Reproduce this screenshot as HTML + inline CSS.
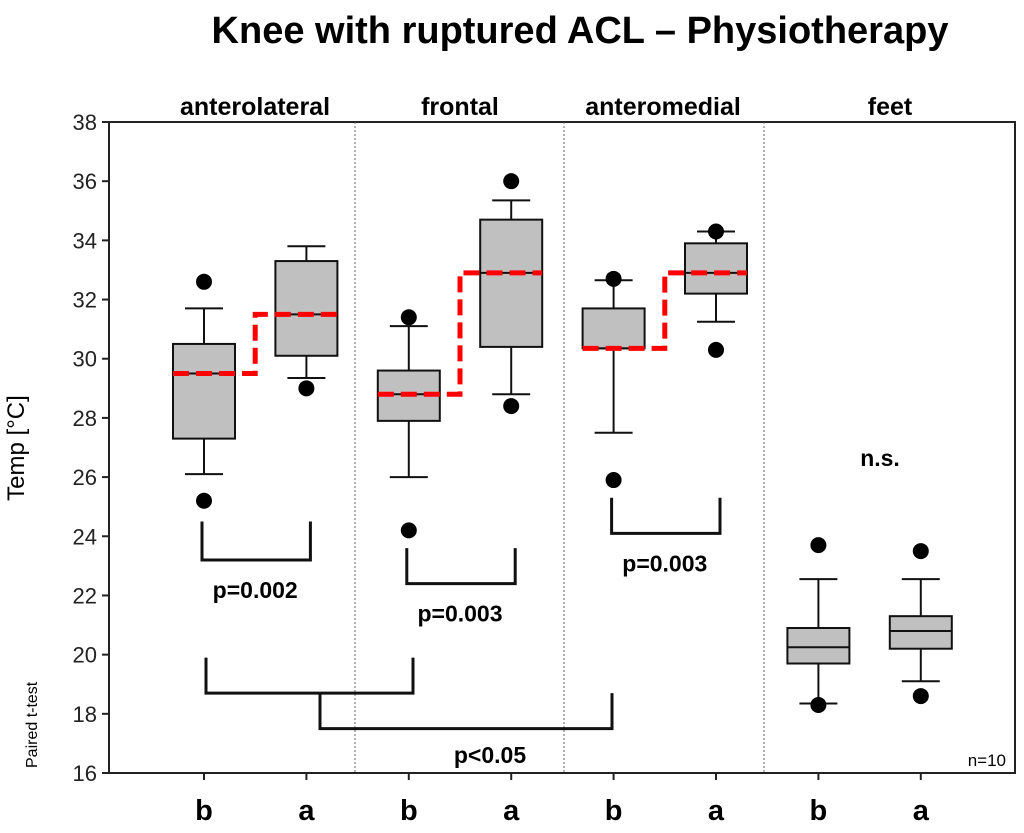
<!DOCTYPE html>
<html><head><meta charset="utf-8"><style>
body{margin:0;background:#fff}
svg text{font-family:"Liberation Sans",Arial,sans-serif}
</style></head><body>
<svg id="c" width="1024" height="828">
<text x="580" y="43" text-anchor="middle" font-size="38" font-weight="bold">Knee with ruptured ACL – Physiotherapy</text>
<text transform="translate(24,448) rotate(-90)" text-anchor="middle" font-size="24">Temp [°C]</text>
<g id="g"></g>
</svg>
<script>
const regions=["anterolateral","frontal","anteromedial","feet"];
const xLabels=["b","a","b","a","b","a","b","a"];
const whiskLo=[26.1,29.35,26.0,28.8,27.5,31.25,18.35,19.1];
const q1=[27.3,30.1,27.9,30.4,30.35,32.2,19.7,20.2];
const median=[29.5,31.5,28.8,32.9,30.35,32.9,20.25,20.8];
const q3=[30.5,33.3,29.6,34.7,31.7,33.9,20.9,21.3];
const whiskHi=[31.7,33.8,31.1,35.35,32.65,34.3,22.55,22.55];
const outHi=[32.6,null,31.4,36.0,32.7,34.3,23.7,23.5];
const outLo=[25.2,29.0,24.2,28.4,25.9,30.3,18.3,18.6];
const yTicks=[16,18,20,22,24,26,28,30,32,34,36,38];
const pairBrackets=[[0,1,24.5,23.2,"p=0.002"],[2,3,23.6,22.4,"p=0.003"],[4,5,25.3,24.1,"p=0.003"]];
const L=109,R=1015,T=122,B=773;
const y=v=>B-(v-16)/22*(B-T);
const x=i=>204+i*102.4;
const NS="http://www.w3.org/2000/svg",g=document.getElementById('g');
function mk(t,a,name,txt){const e=document.createElementNS(NS,t);for(const k in a)e.setAttribute(k,a[k]);


if(txt!==undefined)e.textContent=txt;g.appendChild(e);return e;}
mk('rect',{x:L,y:T,width:R-L,height:B-T,fill:'none',stroke:'#222','stroke-width':2},'plot-frame');
[355,564,764].forEach(d=>mk('line',{x1:d,x2:d,y1:T,y2:B,stroke:'#666','stroke-dasharray':'2,2'},'region-divider'));
const rc=[255,460,663,890];
regions.forEach((r,i)=>mk('text',{x:rc[i],y:115,'text-anchor':'middle','font-size':25,'font-weight':'bold'},'region-label',r));
yTicks.forEach(t=>{mk('line',{x1:L-7,x2:L,y1:y(t),y2:y(t),stroke:'#222','stroke-width':2},'y-tick');
mk('text',{x:L-12,y:y(t)+8,'text-anchor':'end','font-size':22,fill:'#222'},'y-tick-label',t);});
xLabels.forEach((l,i)=>{mk('line',{x1:x(i),x2:x(i),y1:B,y2:B+7,stroke:'#222','stroke-width':2},'x-tick');
mk('text',{x:x(i),y:820,'text-anchor':'middle','font-size':29,'font-weight':'bold'},'x-tick-label',l);});
const hw=31;
xLabels.forEach((l,i)=>{const c=x(i);
mk('line',{x1:c,x2:c,y1:y(whiskLo[i]),y2:y(q1[i]),stroke:'#111','stroke-width':2},'whisker-low');
mk('line',{x1:c,x2:c,y1:y(q3[i]),y2:y(whiskHi[i]),stroke:'#111','stroke-width':2},'whisker-high');
mk('line',{x1:c-19,x2:c+19,y1:y(whiskLo[i]),y2:y(whiskLo[i]),stroke:'#111','stroke-width':2},'whisker-cap-low');
mk('line',{x1:c-19,x2:c+19,y1:y(whiskHi[i]),y2:y(whiskHi[i]),stroke:'#111','stroke-width':2},'whisker-cap-high');
mk('rect',{x:c-hw,y:y(q3[i]),width:2*hw,height:y(q1[i])-y(q3[i]),fill:'#c0c0c0',stroke:'#111','stroke-width':2},'box');
mk('line',{x1:c-hw,x2:c+hw,y1:y(median[i]),y2:y(median[i]),stroke:'#111','stroke-width':2},'median-line');
if(outHi[i]!==null)mk('circle',{cx:c,cy:y(outHi[i]),r:8,fill:'#000'},'outlier');
if(outLo[i]!==null)mk('circle',{cx:c,cy:y(outLo[i]),r:8,fill:'#000'},'outlier');
});
for(let k=0;k<3;k++){const b=2*k,a=b+1,m=(x(b)+x(a))/2;
mk('path',{d:`M${x(b)-hw},${y(median[b])}H${m}V${y(median[a])}H${x(a)+hw}`,fill:'none',stroke:'#f00','stroke-width':5,'stroke-dasharray':'16,7'},'mean-step-line');}
pairBrackets.forEach(([i,j,top,bot,lab])=>{
mk('path',{d:`M${x(i)-2},${y(top)}V${y(bot)}H${x(j)+4}V${y(top)}`,fill:'none',stroke:'#111','stroke-width':3},'significance-bracket');
mk('text',{x:(x(i)+x(j))/2,y:y(bot)+38,'text-anchor':'middle','font-size':23,'font-weight':'bold'},'p-value-label',lab);});
mk('path',{d:`M206,${y(19.9)}V${y(18.7)}H413V${y(19.9)}`,fill:'none',stroke:'#111','stroke-width':3},'group-bracket');
mk('path',{d:`M320,${y(18.7)}V${y(17.5)}H612V${y(18.7)}`,fill:'none',stroke:'#111','stroke-width':3},'group-bracket');
mk('text',{x:490,y:763,'text-anchor':'middle','font-size':23,'font-weight':'bold'},'p-value-label','p<0.05');
mk('text',{x:880,y:466,'text-anchor':'middle','font-size':23,'font-weight':'bold'},'ns-label','n.s.');
mk('text',{x:1006,y:766,'text-anchor':'end','font-size':17},'n-label','n=10');
mk('text',{transform:'translate(37,768) rotate(-90)','font-size':16},'test-label','Paired t-test');
</script>
</body></html>
